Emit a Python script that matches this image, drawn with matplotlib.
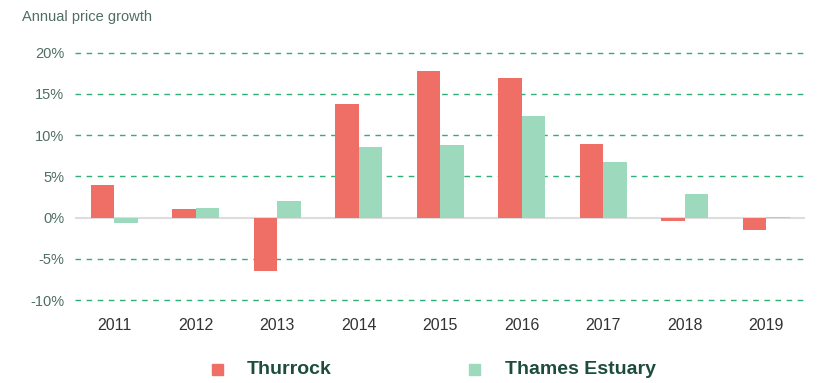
import matplotlib.pyplot as plt
import numpy as np
from matplotlib.patches import Rectangle

years = ["2011", "2012", "2013", "2014", "2015", "2016", "2017", "2018", "2019"]
thurrock = [3.9, 1.0, -6.5, 13.7, 17.7, 16.9, 8.9, -0.4, -1.5]
thames_estuary = [-0.7, 1.1, 2.0, 8.5, 8.8, 12.3, 6.7, 2.8, 0.1]
yticks = [-10, -5, 0, 5, 10, 15, 20]
series_names = ["Thurrock", "Thames Estuary"]

red = "#ef6f66"
mint = "#9dd9bd"
grid_green = "#2fae78"
label_col = "#4f6e62"

plt.rcParams['font.family'] = ['Liberation Sans', 'DejaVu Sans']

fig = plt.figure(figsize=(8.26, 3.83), dpi=100)
ax = fig.add_axes([0.091, 0.2124, 0.884, 0.6548])

x = np.arange(len(years))
w = 0.29
ax.bar(x - w / 2, thurrock, w, color=red, zorder=3)
ax.bar(x + w / 2, thames_estuary, w, color=mint, zorder=3)

for t in yticks:
    if t == 0:
        ax.axhline(0, color="#dddddd", lw=1.5, zorder=2)
    else:
        ax.axhline(t, color=grid_green, lw=1, ls=(0, (4, 4)), zorder=1)

ax.set_xlim(-0.48, 8.48)
ax.set_ylim(-10.2, 20.2)
ax.set_yticks(yticks)
ax.set_yticklabels([f"{t}%" for t in yticks], color=label_col, fontsize=10.5)
ax.set_xticks(x)
ax.set_xticklabels(years, color="#333333", fontsize=11.5)
ax.tick_params(length=0, pad=8)
ax.tick_params(axis='x', pad=12)
for s in ax.spines.values():
    s.set_visible(False)

fig.text(0.027, 0.955, "Annual price growth", color=label_col, fontsize=10.5, va="center")

# legend: small squares with bold labels along the bottom
W, H = 826, 383
for name, col, sx, tx in zip(series_names, [red, mint], [212, 469], [247, 505]):
    fig.patches.append(Rectangle((sx / W, 1 - 375 / H), 11 / W, 11 / H,
                                 color=col, transform=fig.transFigure))
    fig.text(tx / W, 1 - 370 / H, name, color="#1d4d3a", fontsize=14,
             fontweight="bold", va="center")

fig.savefig("out.png", dpi=100)
